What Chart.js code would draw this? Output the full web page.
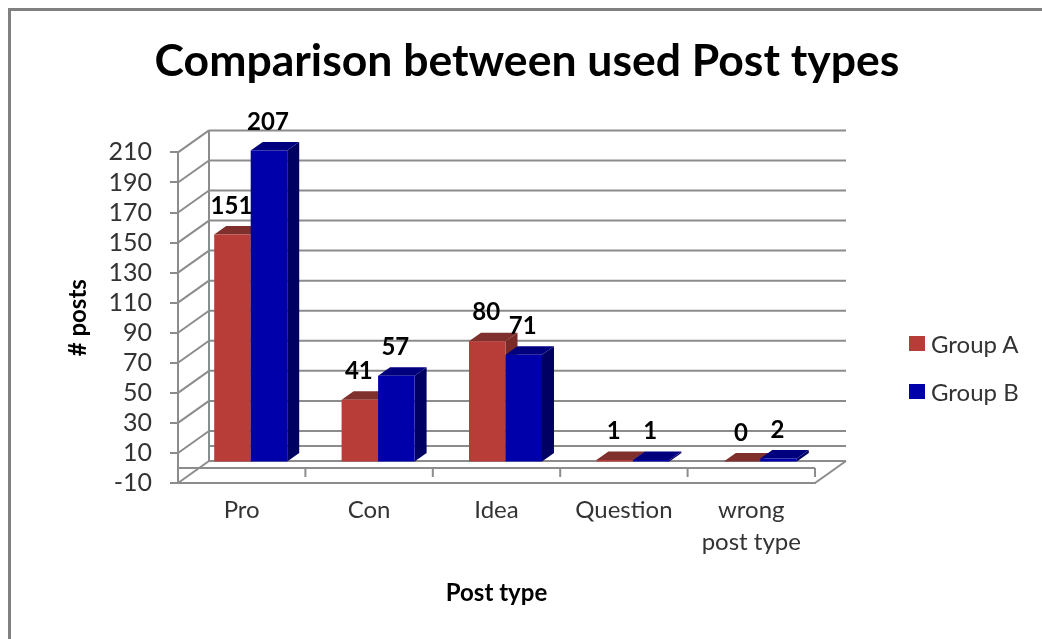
<!DOCTYPE html>
<html>
<head>
<meta charset="utf-8">
<title>Comparison between used Post types</title>
<script src="https://cdn.jsdelivr.net/npm/chart.js@4/dist/chart.umd.min.js"></script>
<style>
    html, body { margin: 0; padding: 0; background: #ffffff; }
    #wrap { position: absolute; left: 0; top: 0; width: 1042px; height: 639px; overflow: hidden; }
    #frame { position: absolute; left: 8px; top: 8px; width: 1100px; height: 700px; border: 3px solid #808080; }
    canvas { position: absolute; left: 0; top: 0; }
    #legend { position: absolute; left: 909px; top: 319px; font: 24px Lato, "Open Sans", sans-serif; color: #333333; }
    .legend-item { display: flex; align-items: center; height: 48px; }
    .legend-box { width: 16px; height: 15px; margin-right: 6px; }
</style>
</head>
<body>
<div id="wrap">
    <div id="frame"></div>
    <canvas id="posts-chart" width="1042" height="639"></canvas>
    <div id="legend"></div>
</div>
<script>
const categories = ['Pro', 'Con', 'Idea', 'Question', ['wrong', 'post type']];
const groupA = [151, 41, 80, 1, 0];
const groupB = [207, 57, 71, 1, 2];
const yTickValues = [-10, 10, 30, 50, 70, 90, 110, 130, 150, 170, 190, 210];

const FONT = 'Lato, "Open Sans", sans-serif';
const GRID = '#8c8c8c';
const TEXT = '#333333';

// 3D offsets: wall depth, how far bars sit inside the floor, bar thickness
const WALL = { dx: 31, dy: -22 };
const BAR_SHIFT = { dx: 9, dy: -6.5 };
const BAR_DEPTH = { dx: 12, dy: -8.5 };

const FACES = [
    { front: '#b83d39', top: '#7f2f2c', side: '#7a2b28' },
    { front: '#0000aa', top: '#00007f', side: '#000062' }
];

function polygon(ctx, points, color) {
    ctx.fillStyle = color;
    ctx.beginPath();
    points.forEach((p, i) => i ? ctx.lineTo(p[0], p[1]) : ctx.moveTo(p[0], p[1]));
    ctx.closePath();
    ctx.fill();
}

function strokeLine(ctx, x1, y1, x2, y2) {
    ctx.beginPath();
    ctx.moveTo(x1, y1);
    ctx.lineTo(x2, y2);
    ctx.stroke();
}

function drawWalls(chart) {
    const { ctx, chartArea: area, scales: { x, y } } = chart;
    ctx.save();
    ctx.strokeStyle = GRID;
    ctx.lineWidth = 2;

    // back wall and side wall lines, plus the zero level
    [...yTickValues, 0].forEach(value => {
        const py = y.getPixelForValue(value);
        strokeLine(ctx, area.left + WALL.dx, py + WALL.dy, area.right + WALL.dx, py + WALL.dy);
        if (value !== 0) strokeLine(ctx, area.left, py, area.left + WALL.dx, py + WALL.dy);
    });
    strokeLine(ctx, area.left + WALL.dx, area.top + WALL.dy, area.left + WALL.dx, area.bottom + WALL.dy);
    strokeLine(ctx, area.right, area.bottom, area.right + WALL.dx, area.bottom + WALL.dy);

    // category axis crosses at zero, ticks hang below it
    const zero = y.getPixelForValue(0);
    strokeLine(ctx, area.left, zero, area.right, zero);
    const step = (area.right - area.left) / categories.length;
    categories.forEach((c, i) => {
        const tx = x.getPixelForTick(i) + step / 2;
        strokeLine(ctx, tx, zero, tx, zero + 9);
    });
    ctx.restore();
}

function drawBars(chart, index) {
    const ctx = chart.ctx;
    const meta = chart.getDatasetMeta(index);
    const colors = FACES[index];
    ctx.save();
    ctx.translate(BAR_SHIFT.dx, BAR_SHIFT.dy);
    meta.data.forEach(bar => {
        const { x, y, base, width } = bar.getProps(['x', 'y', 'base', 'width'], true);
        const l = x - width / 2;
        const r = x + width / 2;
        const dx = BAR_DEPTH.dx;
        const dy = BAR_DEPTH.dy;
        polygon(ctx, [[r, y], [r + dx, y + dy], [r + dx, base + dy], [r, base]], colors.side);
        polygon(ctx, [[l, y], [l + dx, y + dy], [r + dx, y + dy], [r, y]], colors.top);
    });
    meta.controller.draw();
    ctx.restore();
}

function drawValueLabels(chart) {
    const ctx = chart.ctx;
    ctx.save();
    ctx.fillStyle = '#000000';
    ctx.font = 'bold 24px ' + FONT;
    ctx.textAlign = 'center';
    ctx.textBaseline = 'middle';
    chart.data.datasets.forEach((ds, i) => {
        chart.getDatasetMeta(i).data.forEach((bar, j) => {
            const p = bar.getProps(['x', 'y'], true);
            ctx.fillText(ds.data[j], p.x + BAR_SHIFT.dx - 1, p.y + BAR_SHIFT.dy + BAR_DEPTH.dy - 20);
        });
    });
    ctx.restore();
}

const bars3d = {
    id: 'bars3d',
    afterLayout(chart) {
        // title is centred over plot and legend together
        chart.titleBlock.right = 994;
    },
    // bars go back to front, Group B over Group A, so the stock draw is skipped
    beforeDatasetsDraw(chart) {
        drawWalls(chart);
        drawBars(chart, 0);
        drawBars(chart, 1);
        drawValueLabels(chart);
        return false;
    }
};

const chart = new Chart(document.getElementById('posts-chart'), {
    type: 'bar',
    data: {
        labels: categories,
        datasets: [
            { label: 'Group A', data: groupA, backgroundColor: FACES[0].front },
            { label: 'Group B', data: groupB, backgroundColor: FACES[1].front }
        ]
    },
    options: {
        responsive: false,
        animation: false,
        events: [],
        layout: { padding: { left: 60, right: 227, top: 26, bottom: 30 } },
        datasets: { bar: { categoryPercentage: 0.573, barPercentage: 1, borderWidth: 0 } },
        plugins: {
            tooltip: { enabled: false },
            legend: { display: false },
            title: {
                display: true,
                text: 'Comparison between used Post types',
                color: '#000000',
                font: { family: FONT, size: 44.5, weight: 'bold' },
                padding: { top: 9, bottom: 64 }
            }
        },
        scales: {
            x: {
                grid: { display: false },
                border: { color: GRID, width: 2 },
                ticks: {
                    color: TEXT,
                    padding: 3,
                    maxRotation: 0,
                    font: { family: FONT, size: 24, lineHeight: 1.35 }
                },
                title: {
                    display: true,
                    text: 'Post type',
                    color: '#000000',
                    font: { family: FONT, size: 24, weight: 'bold' },
                    padding: { top: 4, bottom: 1 }
                },
                afterFit(scale) { scale.height = 126; }
            },
            y: {
                min: -10,
                max: 210,
                afterBuildTicks(scale) { scale.ticks = yTickValues.map(value => ({ value })); },
                grid: { drawOnChartArea: false, color: GRID, lineWidth: 2, tickLength: 8 },
                border: { color: GRID, width: 2 },
                ticks: {
                    color: TEXT,
                    padding: 18,
                    autoSkip: false,
                    font: { family: FONT, size: 25 }
                },
                title: {
                    display: true,
                    text: '# posts',
                    color: '#000000',
                    font: { family: FONT, size: 24, weight: 'bold' },
                    padding: { top: 4, bottom: 4 }
                },
                afterFit(scale) { scale.width = 118; }
            }
        }
    },
    plugins: [bars3d]
});

function buildLegend() {
    const container = document.getElementById('legend');
    chart.data.datasets.forEach(ds => {
        const item = document.createElement('div');
        item.className = 'legend-item';
        item.innerHTML = `<span class="legend-box" style="background:${ds.backgroundColor}"></span><span>${ds.label}</span>`;
        container.appendChild(item);
    });
}
buildLegend();
</script>
</body>
</html>
